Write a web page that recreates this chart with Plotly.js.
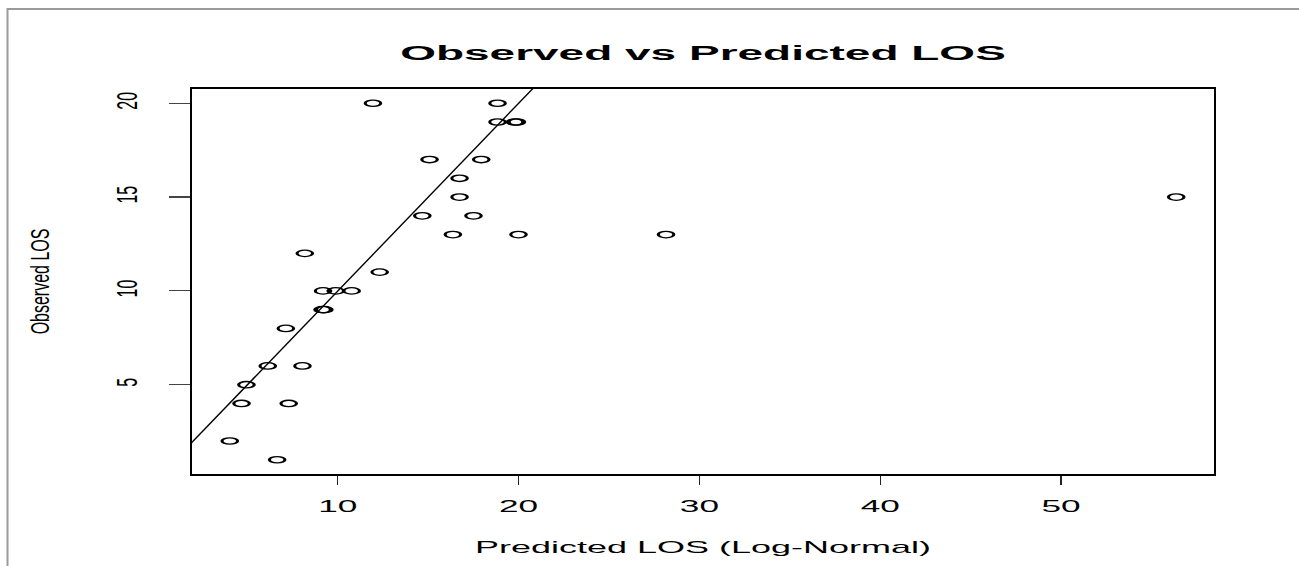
<!DOCTYPE html>
<html>
<head>
<meta charset="utf-8">
<script src="https://cdn.plot.ly/plotly-3.0.1.min.js"></script>
<style>
  html, body { margin: 0; padding: 0; background: #ffffff; }
  #chart { width: 1299px; height: 566px; }
</style>
</head>
<body>
<div id="chart"></div>
<script>
// Predicted LOS (Log-Normal) vs observed LOS
const predictedLOS = [11.94, 18.83, 18.83, 19.80, 19.90, 15.07, 17.93, 16.73, 16.73, 56.37,
                      14.67, 17.50, 16.36, 19.99, 28.15, 8.17, 12.31, 9.18, 9.88, 10.76,
                      9.15, 9.25, 7.12, 6.12, 8.04, 4.94, 4.67, 7.28, 4.02, 6.64];
const observedLOS  = [20, 20, 19, 19, 19, 17, 17, 16, 15, 15,
                      14, 14, 13, 13, 13, 12, 11, 10, 10, 10,
                      9, 9, 8, 6, 6, 5, 4, 4, 2, 1];
// identity reference line y = x
const identityX = [0, 60];
const identityY = [0, 60];
const xTickValues = [10, 20, 30, 40, 50];
const yTickValues = [5, 10, 15, 20];

const FONT = 'Liberation Sans, Arial, Helvetica, sans-serif';

const traces = [
  {
    type: 'scatter', mode: 'lines',
    x: identityX, y: identityY,
    line: { color: '#000000', width: 1.4 },
    hoverinfo: 'skip', showlegend: false
  },
  {
    type: 'scatter', mode: 'markers',
    x: predictedLOS, y: observedLOS,
    marker: { symbol: 'circle-open', size: 8, color: '#000000', line: { width: 1.6, color: '#000000' } },
    showlegend: false
  }
];

const plotL = 192, plotR = 1214, plotT = 89, plotB = 474;
const pw = plotR - plotL, ph = plotB - plotT;

const layout = {
  width: 1299, height: 566,
  margin: { l: plotL, r: 1299 - plotR, t: plotT, b: 566 - plotB, pad: 0 },
  paper_bgcolor: '#ffffff', plot_bgcolor: '#ffffff',
  font: { family: FONT, color: '#000000' },
  showlegend: false,
  title: {
    text: 'Observed vs Predicted LOS',
    font: { family: FONT, size: 20, color: '#000000', weight: 'bold' },
    x: (plotL + plotR) / 2 / 1299, xanchor: 'center',
    y: 1 - 53 / 566, yanchor: 'middle', yref: 'container'
  },
  xaxis: {
    range: [1.93, 58.46],
    tickmode: 'array', tickvals: xTickValues, ticktext: xTickValues.map(String),
    ticks: 'outside', ticklen: 9, tickwidth: 1.2, tickcolor: '#222222',
    showline: true, mirror: true, linecolor: '#000000', linewidth: 1.8,
    showgrid: false, zeroline: false,
    tickfont: { family: FONT, size: 16, color: '#000000' },
    ticklabelstandoff: 8,
    title: { text: 'Predicted LOS (Log-Normal)', font: { family: FONT, size: 16, color: '#000000' }, standoff: 28 }
  },
  yaxis: {
    range: [0.24, 20.76],
    tickmode: 'array', tickvals: yTickValues, ticktext: yTickValues.map(String),
    ticks: 'outside', ticklen: 21, tickwidth: 1.2, tickcolor: '#444444',
    tickangle: -90,
    showline: true, mirror: true, linecolor: '#000000', linewidth: 1.8,
    showgrid: false, zeroline: false,
    tickfont: { family: FONT, size: 16, color: '#000000' },
    ticklabelstandoff: 30,
    title: { text: 'Observed LOS', font: { family: FONT, size: 16, color: '#000000' }, standoff: 68 }
  },
  shapes: [
    {
      type: 'rect', xref: 'paper', yref: 'paper',
      x0: (7.5 - plotL) / pw, x1: (1320 - plotL) / pw,
      y0: (plotB - 600) / ph, y1: (plotB - 9) / ph,
      line: { color: '#9a9a9a', width: 2 }, fillcolor: 'rgba(0,0,0,0)', layer: 'below'
    }
  ]
};

function stretch(selector, sx, sy) {
  document.querySelectorAll(selector).forEach(function (el) {
    const bb = el.getBBox();
    const cx = bb.x + bb.width / 2, cy = bb.y + bb.height / 2;
    const t = el.getAttribute('transform') || '';
    el.setAttribute('transform', t + ' translate(' + cx + ',' + cy + ') scale(' + sx + ',' + sy + ') translate(' + (-cx) + ',' + (-cy) + ')');
  });
}

Plotly.newPlot('chart', traces, layout, { staticPlot: true, displayModeBar: false }).then(function () {
  // the reference is horizontally stretched: widen texts and flatten circles
  stretch('.xtick text', 2.2, 1);
  stretch('.g-xtitle text', 2.25, 1);
  stretch('.g-gtitle text', 2.3, 1);
  stretch('.ytick text', 1, 1.8);
  stretch('.g-ytitle text', 1, 1.6);
  document.querySelectorAll('.scatterlayer .trace .points path').forEach(function (p) {
    const t = p.getAttribute('transform') || '';
    p.setAttribute('transform', t + ' scale(1.95,0.8)');
  });
});
</script>
</body>
</html>
